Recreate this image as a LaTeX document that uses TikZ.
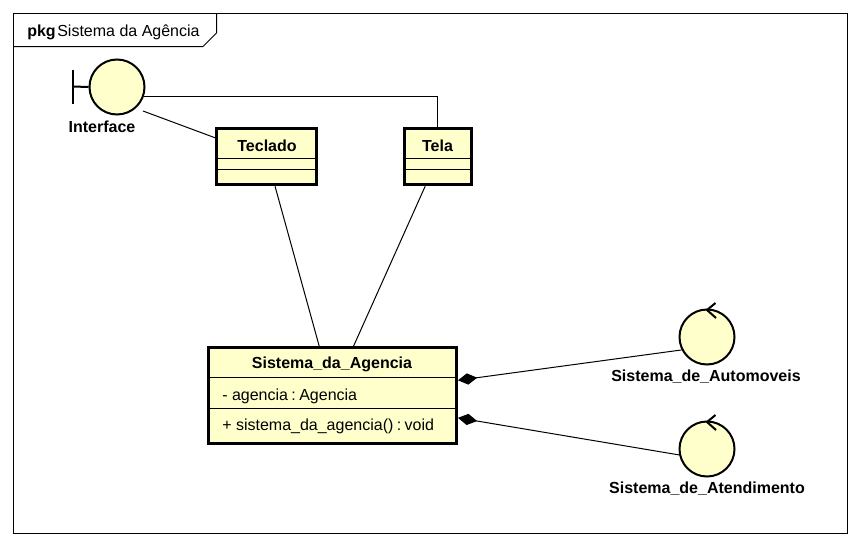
\documentclass[tikz,border=0pt]{standalone}
\usepackage{fontspec}
\setmainfont{Liberation Sans}
\usetikzlibrary{arrows.meta}
\definecolor{umlfill}{HTML}{FFFFCC}
\tikzset{
  x=0.75pt,y=-0.75pt,
  thin line/.style={line width=0.75pt,draw=black},
  classbox/.style={draw=black,fill=umlfill,line width=2.25pt,inner sep=0pt,anchor=center},
  roundel/.style={circle,draw=black,fill=umlfill,line width=1.5pt,inner sep=0pt,minimum size=41.25pt},
  boldlabel/.style={font=\fontsize{12pt}{14pt}\selectfont\bfseries,inner sep=0pt,text=black},
  pluslabel/.style={font=\fontsize{12pt}{14pt}\selectfont,inner sep=0pt,text=black,anchor=west},
  composite/.style={{Diamond[length=14.5pt,width=8.5pt,fill=black]}-,line width=0.75pt},
  glyph/.style={line width=1.5pt,draw=black}
}
\begin{document}
\begin{tikzpicture}
\useasboundingbox (0,0) rectangle (860,546);
\fill[white] (0,0) rectangle (860,546);
% frame
\draw[thin line] (13.5,13.5) rectangle (847.5,533.5);
\draw[thin line] (13.5,46.5) -- (203,46.5) -- (216.5,33) -- (216.5,13.5);
\node[font=\fontsize{12pt}{14pt}\selectfont,inner sep=0pt,anchor=west] (frametitle) at (27,32.5) {\textbf{pkg}\hspace{1.2pt}Sistema da Agência};
% boxes
\node[classbox,minimum width=75pt,minimum height=42.4pt] (teclado) at (266.5,156.5) {};
\node[classbox,minimum width=50pt,minimum height=42.4pt] (tela) at (437.8,156.5) {};
\node[classbox,minimum width=186pt,minimum height=71.8pt] (sistema) at (332.5,395.7) {};
\draw[thin line] (217,158) -- (316,158) (217,169.5) -- (316,169.5);
\draw[thin line] (405,158) -- (471,158) (405,169.5) -- (471,169.5);
\draw[thin line] (209,377.5) -- (456,377.5) (209,408.5) -- (456,408.5);
\node[boldlabel] (tecladotxt) at (267,146) {Teclado};
\node[boldlabel] (telatxt) at (437.5,146) {Tela};
\node[boldlabel] (sistematxt) at (332,364.5) {Sistema\_da\_Agencia};
\node[pluslabel] (attr) at (222,396) {- agencia\hspace{2.55pt}:\hspace{2.55pt}Agencia};
\node[pluslabel] (op) at (222,426) {+ sistema\_da\_agencia()\hspace{2.55pt}:\hspace{2.55pt}void};
% roundels
\node[roundel] (iface) at (117,87) {};
\node[roundel] (auto) at (707,337) {};
\node[roundel] (atend) at (707,449) {};
\draw[glyph] (73,69.5) -- (73,103.5);
\coordinate (ifbar) at (73,86.5);
\draw[glyph] (ifbar) -- (iface.west);
\draw[glyph] (715.5,303) -- (707,310) -- (716,318);
\draw[glyph] (715.5,415) -- (707,422) -- (716,430);
\node[boldlabel] (ifacetxt) at (102,126.5) {Interface};
\node[boldlabel] (autotxt) at (706,376.5) {Sistema\_de\_Automoveis};
\node[boldlabel] (atendtxt) at (707,488.5) {Sistema\_de\_Atendimento};
% connectors
\coordinate (ifaceout) at (143,111);
\draw[thin line] (ifaceout) -- (teclado.160.3);
\draw[thin line] (iface.-19) -| (tela.north);
\draw[thin line] (teclado.-74.6) -- (sistema.105.3);
\draw[thin line] (tela.-113.7) -- (sistema.67.5);
\draw[composite] (sistema.7.9) -- (auto.207);
\draw[composite] (sistema.-10.2) -- (atend.192);
\end{tikzpicture}
\end{document}
